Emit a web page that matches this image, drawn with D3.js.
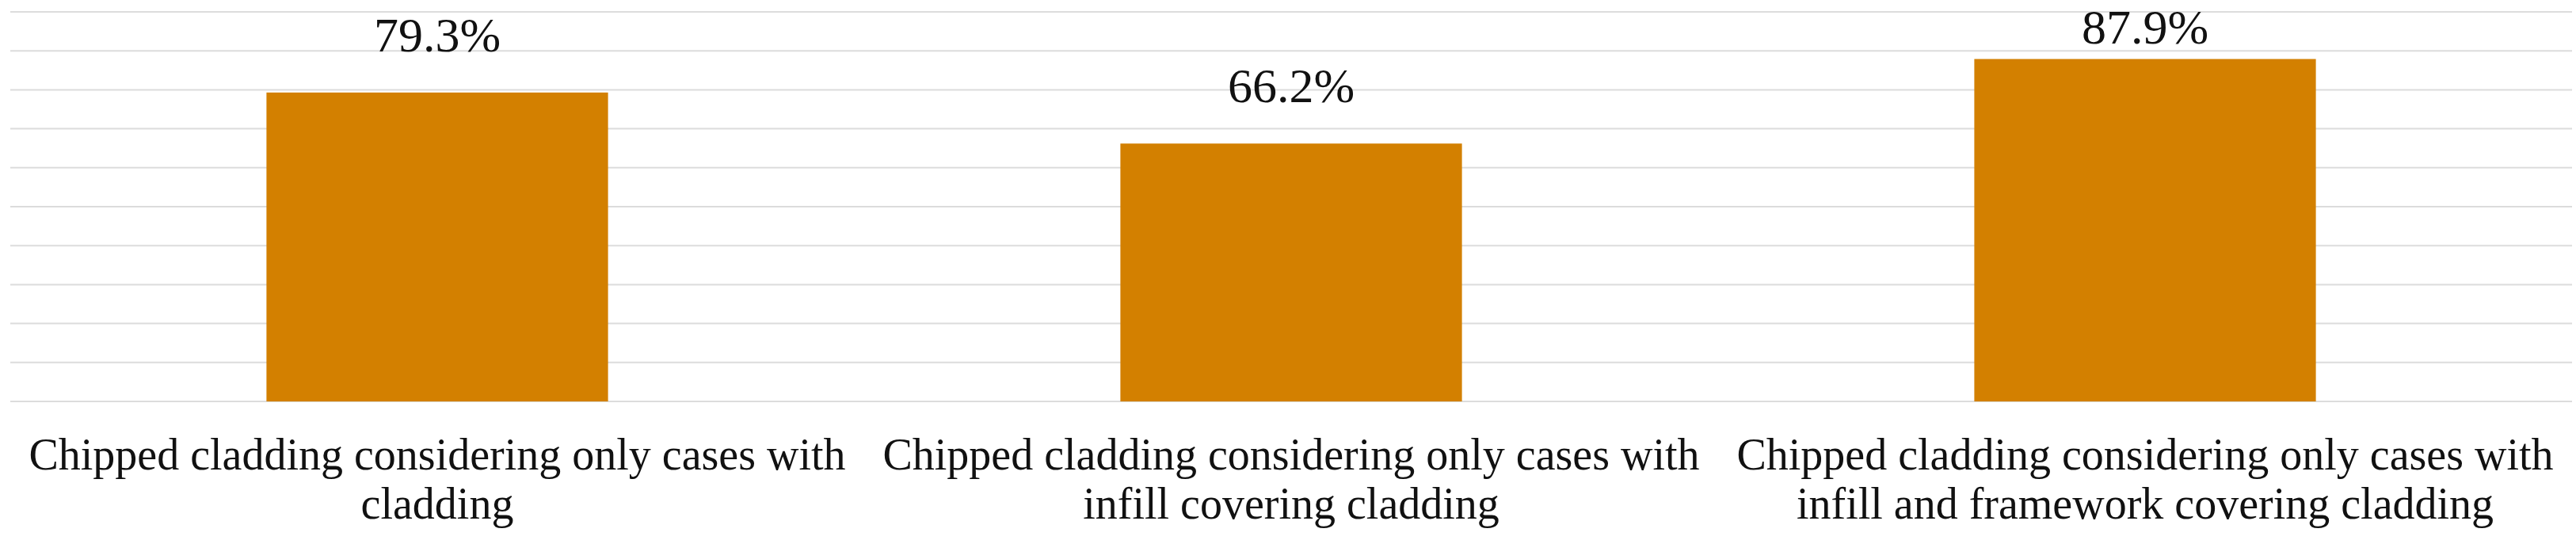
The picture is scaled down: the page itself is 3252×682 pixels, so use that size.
<!DOCTYPE html>
<html>
<head>
<meta charset="utf-8">
<script src="https://cdn.jsdelivr.net/npm/d3@7"></script>
<style>
  body { margin: 0; background: #fff; }
  svg { display: block; font-family: "Liberation Serif", "DejaVu Serif", serif; }
</style>
</head>
<body>
<script>
// data
const categories = [
    'Chipped cladding considering only cases with cladding',
    'Chipped cladding considering only cases with infill covering cladding',
    'Chipped cladding considering only cases with infill and framework covering cladding'
]
const values = [79.3, 66.2, 87.9]
const yTicks = [0, 10, 20, 30, 40, 50, 60, 70, 80, 90, 100]

// size of svg and plot area
const w = 3252
const h = 682
const plotLeft = 13
const plotRight = 3247
const plotTop = 15
const plotBottom = 507

const svg = d3.select('body')
    .append('svg')
    .attr('width', w)
    .attr('height', h)

// scales
const x = d3.scaleBand()
    .domain(categories)
    .range([plotLeft, plotRight])
    .paddingInner(0.6)
    .paddingOuter(0.3)

const y = d3.scaleLinear()
    .domain([0, 100])
    .range([plotBottom, plotTop])

// gridlines
svg.append('g')
    .selectAll('line')
    .data(yTicks)
    .enter()
    .append('line')
    .attr('x1', plotLeft)
    .attr('x2', plotRight)
    .attr('y1', d => y(d))
    .attr('y2', d => y(d))
    .attr('stroke', '#dcdcdc')
    .attr('stroke-width', 2)

// bars
svg.append('g')
    .selectAll('rect')
    .data(values)
    .enter()
    .append('rect')
    .attr('x', (d, i) => x(categories[i]))
    .attr('y', d => y(d))
    .attr('width', x.bandwidth())
    .attr('height', d => y(0) - y(d))
    .attr('fill', '#d38000')

// value labels (kept inside the plot at the top, like Excel does)
svg.append('g')
    .selectAll('text')
    .data(values)
    .enter()
    .append('text')
    .attr('x', (d, i) => x(categories[i]) + x.bandwidth() / 2)
    .attr('y', d => Math.max(y(d) - 52, 55))
    .attr('text-anchor', 'middle')
    .style('font-size', '62px')
    .attr('fill', '#111')
    .text(d => d.toFixed(1) + '%')

// category labels, wrapped to the band step
const maxW = x.step() - 20
const labels = svg.append('g')
    .selectAll('text')
    .data(categories)
    .enter()
    .append('text')
    .attr('x', d => x(d) + x.bandwidth() / 2)
    .attr('y', 593)
    .attr('text-anchor', 'middle')
    .style('font-size', '56px')
    .attr('fill', '#111')

labels.each(function (d) {
    const t = d3.select(this)
    const cx = t.attr('x')
    const words = d.split(' ')
    let line = []
    let span = t.append('tspan').attr('x', cx).attr('dy', 0)
    for (const word of words) {
        line.push(word)
        span.text(line.join(' '))
        if (span.node().getComputedTextLength() > maxW && line.length > 1) {
            line.pop()
            span.text(line.join(' '))
            line = [word]
            span = t.append('tspan').attr('x', cx).attr('dy', 62).text(word)
        }
    }
})
</script>
</body>
</html>
